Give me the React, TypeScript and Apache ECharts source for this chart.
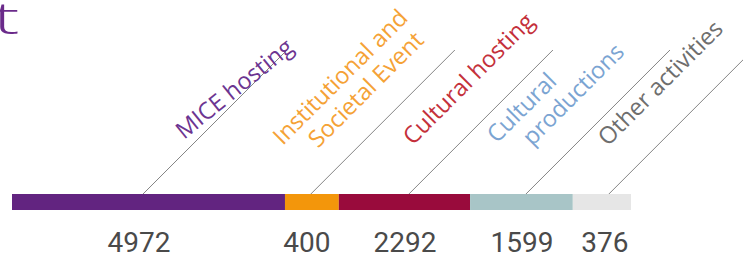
import { useEffect, useRef } from "react";
import * as echarts from "echarts";

// ---- data ----
const categories = [
  "MICE hosting",
  "Institutional and\nSocietal Event",
  "Cultural hosting",
  "Cultural\nproductions",
  "Other activities",
];
const counts = [4972, 400, 2292, 1599, 376];
// share of the bar length (%) as drawn in the picture
const barShares = [44.1, 8.7, 21.2, 16.6, 9.4];
const titleFragment = "t";

// ---- styles / layout ----
const barColors = ["#622480", "#f3960b", "#990b3c", "#a8c5c7", "#e6e6e6"];
const textColors = ["#6c3591", "#f5a236", "#c4303b", "#7ba4d2", "#6e6e6e"];
const anchorFrac = [0.48, 0.48, 0.534, 0.544, 0.62];
const labelOffsets = [
  [41, -54],
  [-28, -48],
  [4, -48],
  [-29, -50],
  [-1, -47],
];
const labelRotDeg = [39, 45, 45, 45, 45];
const FONT = '"Open Sans", sans-serif';
const VALUE_FONT = 'Roboto, "Open Sans", sans-serif';
const LABEL_SIZE = 23.5;
const VALUE_SIZE = 28;
const BAR_TOP = 194;
const BAR_H = 16;
const RISE = 144;

export default function App() {
  const ref = useRef<HTMLDivElement>(null);
  useEffect(() => {
    if (!ref.current) return;
    const chart = echarts.init(ref.current, undefined, { renderer: "svg" });
    chart.setOption({
      animation: false,
      grid: { left: 12, top: BAR_TOP, width: 619, height: BAR_H },
      xAxis: { type: "value", min: 0, max: 100, show: false },
      yAxis: { type: "category", data: ["all"], show: false },
      series: categories.map((c, i) => ({
        name: c,
        type: "bar",
        stack: "total",
        barWidth: BAR_H,
        itemStyle: { color: barColors[i] },
        data: [barShares[i]],
      })),
    });

    const elements: any[] = [];
    let cum = 0;
    categories.forEach((cat, i) => {
      const anchor = cum + anchorFrac[i] * barShares[i];
      cum += barShares[i];
      const ax = chart.convertToPixel({ xAxisIndex: 0 }, anchor) as number;
      elements.push({
        type: "line",
        silent: true,
        shape: { x1: ax, y1: BAR_TOP, x2: ax + RISE, y2: BAR_TOP - RISE },
        style: { stroke: "#858585", lineWidth: 1 },
      });
      elements.push({
        type: "text",
        x: ax - 4,
        y: 242,
        style: {
          text: String(counts[i]),
          fill: "#4a4a4a",
          fontSize: VALUE_SIZE,
          fontFamily: VALUE_FONT,
          lineHeight: 28,
          align: "center",
          verticalAlign: "middle",
          textAlign: "center",
          textVerticalAlign: "middle",
        },
      });
      const ang = (labelRotDeg[i] * Math.PI) / 180;
      const c = Math.cos(ang);
      const s = Math.sin(ang);
      const lines = cat.split("\n");
      lines.forEach((ln, k) => {
        // baseline start point
        const bx = ax + labelOffsets[i][0] + k * (23 * c + 27 * s);
        const by = BAR_TOP + labelOffsets[i][1] + k * (-23 * s + 27 * c);
        // move to middle of line box (up, perpendicular)
        const d = 0.388 * LABEL_SIZE;
        const mx = bx - d * s;
        const my = by - d * c;
        elements.push({
          type: "text",
          x: mx,
          y: my,
          rotation: ang,
          style: {
            text: ln,
            fill: textColors[i],
            fontSize: LABEL_SIZE,
            fontFamily: FONT,
            align: "left",
            verticalAlign: "middle",
            textAlign: "left",
            textVerticalAlign: "middle",
          },
        });
      });
    });
    elements.push({
      type: "text",
      x: -7,
      y: 17,
      scaleX: 1.8,
      style: {
        text: titleFragment,
        fill: "#6a2a8a",
        fontSize: 44,
        fontWeight: 300,
        fontFamily: FONT,
        align: "left",
        verticalAlign: "middle",
        textAlign: "left",
        textVerticalAlign: "middle",
      },
    });
    chart.setOption({ graphic: { elements } });
    return () => chart.dispose();
  }, []);
  return (
    <div
      ref={ref}
      style={{ position: "fixed", left: 0, top: 0, width: 743, height: 257, background: "#fff" }}
    />
  );
}
